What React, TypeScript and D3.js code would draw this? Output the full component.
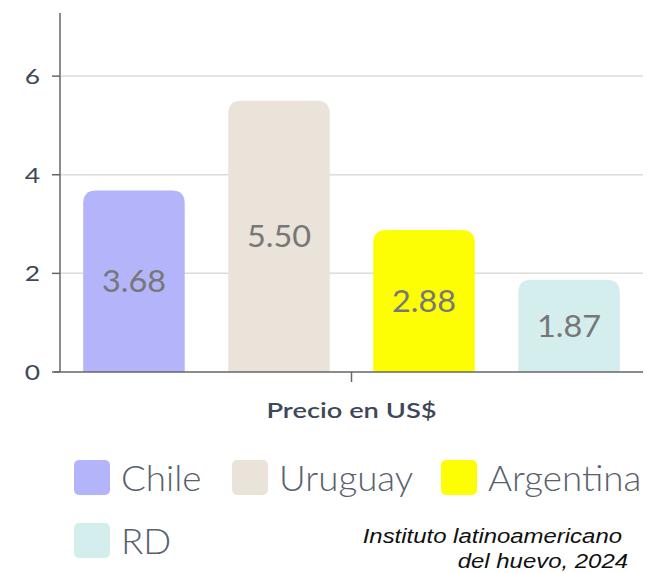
import React from 'react';
import * as d3 from 'd3';

const categories = ['Precio en US$'];
const series = ['Chile', 'Uruguay', 'Argentina', 'RD'];
const values = [3.68, 5.5, 2.88, 1.87];
const colors = ['#b4b4fa', '#e9e3d9', '#fdfd04', '#d4eeee'];
const yTicks = [0, 2, 4, 6];
const sourceLines = ['Instituto latinoamericano', 'del huevo, 2024'];

const width = 662;
const height = 573;
const margin = {left: 60, right: 19, top: 13, bottom: 201};
const font = 'Lato, "Open Sans", sans-serif';

function topRoundedBar(x: number, y: number, w: number, h: number, r: number) {
    const rr = Math.min(r, h, w / 2);
    return 'M' + x + ',' + (y + h) +
        'V' + (y + rr) +
        'Q' + x + ',' + y + ' ' + (x + rr) + ',' + y +
        'H' + (x + w - rr) +
        'Q' + (x + w) + ',' + y + ' ' + (x + w) + ',' + (y + rr) +
        'V' + (y + h) + 'Z';
}

// text drawn a bit wider than the font, like the picture's
function WideText(props: any) {
    const {x, y, sx, children, ...rest} = props;
    return (
        <text transform={'translate(' + x + ',' + y + ') scale(' + sx + ',1)'} {...rest}>{children}</text>
    );
}

export default function App() {
    const innerH = height - margin.top - margin.bottom;
    const x0 = d3.scaleBand().domain(categories).range([margin.left, width - margin.right]);
    const x1 = d3.scaleBand().domain(series).range([0, x0.bandwidth()])
        .paddingInner(0.3).paddingOuter(0.16);
    const y = d3.scaleLinear().domain([0, 7.28]).range([margin.top + innerH, margin.top]);

    return (
        <div style={{position: 'absolute', left: 0, top: 0}}>
            <svg width={width} height={height} style={{display: 'block', background: '#fff'}}>
                {yTicks.filter(t => t > 0).map(t => (
                    <line key={'g' + t} x1={margin.left} x2={width - margin.right}
                        y1={y(t)} y2={y(t)} stroke='#dcdcdc' strokeWidth={1.5}/>
                ))}
                {categories.map(c => (
                    <g key={c}>
                        {series.map((s, i) => {
                            const bx = (x0(c) || 0) + (x1(s) || 0);
                            const by = y(values[i]);
                            const bh = y(0) - by;
                            return (
                                <g key={s}>
                                    <path d={topRoundedBar(bx, by, x1.bandwidth(), bh, 13)} fill={colors[i]}/>
                                    <WideText x={bx + x1.bandwidth() / 2} y={by + bh / 2} sx={1.08} dy='0.36em'
                                        textAnchor='middle' fontFamily={font} fontSize={30}
                                        fill='#777777'>{values[i].toFixed(2)}</WideText>
                                </g>
                            );
                        })}
                        <line x1={(x0(c) || 0) + x0.bandwidth() / 2} x2={(x0(c) || 0) + x0.bandwidth() / 2}
                            y1={y(0)} y2={y(0) + 10} stroke='#666' strokeWidth={1.5}/>
                        <WideText x={(x0(c) || 0) + x0.bandwidth() / 2} y={y(0) + 46} sx={1.3} textAnchor='middle'
                            fontFamily={font} fontSize={21} fontWeight={600} fill='#3e4858'>{c}</WideText>
                    </g>
                ))}
                <line x1={margin.left} x2={margin.left} y1={margin.top} y2={y(0)} stroke='#666' strokeWidth={1.5}/>
                <line x1={margin.left - 6} x2={width - margin.right} y1={y(0)} y2={y(0)} stroke='#666' strokeWidth={1.5}/>
                {yTicks.map(t => (
                    <g key={'t' + t}>
                        <line x1={margin.left - 8} x2={margin.left} y1={y(t)} y2={y(t)} stroke='#666' strokeWidth={1.5}/>
                        <WideText x={margin.left - 20} y={y(t)} sx={1.2} dy='0.36em' textAnchor='end'
                            fontFamily={font} fontSize={22} fill='#3e4858'>{t}</WideText>
                    </g>
                ))}
                {series.map((s, i) => {
                    const col = i % 3;
                    const row = Math.floor(i / 3);
                    const offsets = [74, 232, 441];
                    const lx = offsets[col];
                    const ly = 460 + row * 63;
                    return (
                        <g key={'l' + s}>
                            <rect x={lx} y={ly} width={36} height={35} rx={5} fill={colors[i]}/>
                            <WideText x={lx + 47} y={ly + 18} sx={1.05} dy='0.36em' fontFamily={font} fontSize={35}
                                fontWeight={300} fill='#59616d'>{s}</WideText>
                        </g>
                    );
                })}
                {sourceLines.map((l, i) => (
                    <WideText key={'s' + i} x={i === 0 ? 622 : 628} y={543 + i * 25} sx={1.14} textAnchor='end'
                        fontFamily='"Liberation Sans", Arial, sans-serif' fontStyle='italic'
                        fontSize={21} fill='#111'>{l}</WideText>
                ))}
            </svg>
        </div>
    );
}
